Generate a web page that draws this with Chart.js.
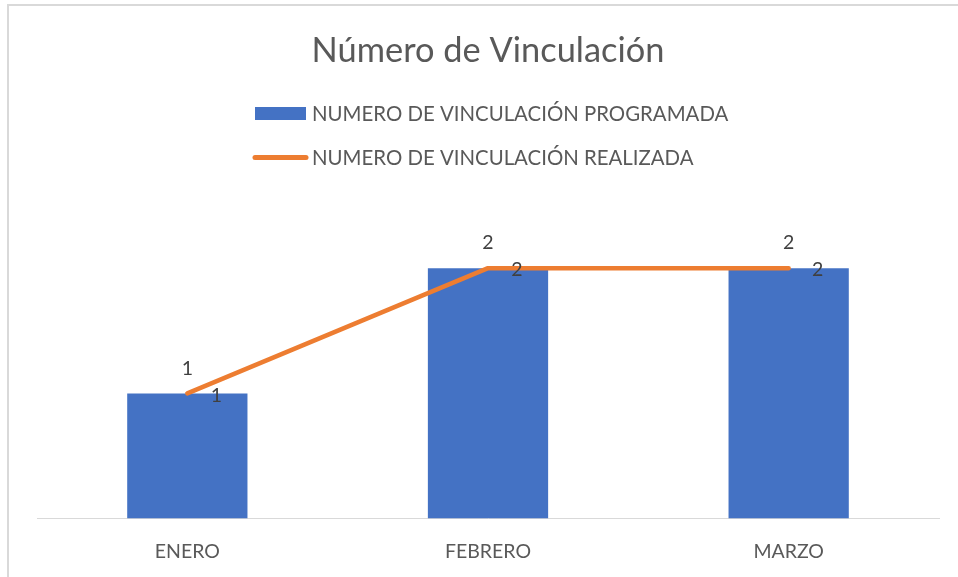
<!DOCTYPE html>
<html>
<head>
<meta charset="utf-8">
<script src="https://cdn.jsdelivr.net/npm/chart.js@4.4.1/dist/chart.umd.min.js"></script>
<style>
    html, body { margin: 0; padding: 0; background: #fff; overflow: hidden; }
    #marco { position: absolute; left: 7px; top: 4px; width: 1000px; height: 700px;
             border-left: 2px solid #d9d9d9; border-top: 2px solid #d9d9d9; }
    #contenedor { position: absolute; left: 0; top: 0; width: 958px; height: 577px; }
</style>
</head>
<body>
<div id="marco"></div>
<div id="contenedor"><canvas id="graficoVinculacion"></canvas></div>
<script>
// Datos del gráfico
const meses = ['ENERO', 'FEBRERO', 'MARZO'];
const vinculacionProgramada = [1, 2, 2];
const vinculacionRealizada = [1, 2, 2];
const etiquetasSeries = ['NUMERO DE VINCULACIÓN PROGRAMADA', 'NUMERO DE VINCULACIÓN REALIZADA'];
const tituloGrafico = 'Número de Vinculación';
const rangoEjeY = [0, 2.5];

const fuente = 'Lato, "Open Sans", sans-serif';
const colorTexto = '#595959';

// Leyenda vertical alineada a la izquierda (como en Excel)
const leyendaVertical = {
    id: 'leyendaVertical',
    afterDraw(chart) {
        const ctx = chart.ctx;
        const x = 255;
        const filas = [113.5, 157.5];
        ctx.save();
        ctx.font = '20.4px ' + fuente;
        ctx.textBaseline = 'middle';
        ctx.textAlign = 'left';
        chart.data.datasets.forEach((ds, i) => {
            const y = filas[i];
            if (ds.type === 'line') {
                ctx.strokeStyle = ds.borderColor;
                ctx.lineWidth = 5;
                ctx.lineCap = 'round';
                ctx.beginPath();
                ctx.moveTo(x, y);
                ctx.lineTo(x + 51, y);
                ctx.stroke();
            } else {
                ctx.fillStyle = ds.backgroundColor;
                ctx.fillRect(x, y - 6.5, 51, 13);
            }
            ctx.fillStyle = colorTexto;
            ctx.fillText(ds.label, x + 57, y + 1);
        });
        ctx.restore();
    }
};

// Etiquetas de datos: barras arriba, línea a la derecha
const etiquetasDatos = {
    id: 'etiquetasDatos',
    afterDatasetsDraw(chart) {
        const ctx = chart.ctx;
        ctx.save();
        ctx.font = '19.5px ' + fuente;
        ctx.fillStyle = '#404040';
        ctx.textAlign = 'center';
        ctx.textBaseline = 'middle';
        chart.data.datasets.forEach((ds, i) => {
            const meta = chart.getDatasetMeta(i);
            meta.data.forEach((el, j) => {
                const valor = ds.data[j];
                if (ds.type === 'line') {
                    ctx.fillText(valor, el.x + 29, el.y + 2);
                } else {
                    ctx.fillText(valor, el.x, el.y - 25);
                }
            });
        });
        ctx.restore();
    }
};

const ctx = document.getElementById('graficoVinculacion').getContext('2d');
new Chart(ctx, {
    data: {
        labels: meses,
        datasets: [{
            type: 'bar',
            label: etiquetasSeries[0],
            data: vinculacionProgramada,
            backgroundColor: '#4472C4',
            categoryPercentage: 1,
            barPercentage: 0.4,
            order: 2
        }, {
            type: 'line',
            label: etiquetasSeries[1],
            data: vinculacionRealizada,
            borderColor: '#ED7D31',
            backgroundColor: '#ED7D31',
            borderWidth: 4.5,
            borderCapStyle: 'round',
            borderJoinStyle: 'round',
            pointRadius: 0,
            tension: 0,
            order: 1
        }]
    },
    options: {
        responsive: true,
        maintainAspectRatio: false,
        animation: false,
        layout: {
            padding: { left: 37, right: 19, top: 0, bottom: -7 }
        },
        plugins: {
            legend: { display: false },
            tooltip: { enabled: false },
            title: {
                display: true,
                text: tituloGrafico,
                color: colorTexto,
                font: { family: fuente, size: 34.4, weight: 'normal' },
                padding: { top: 30, bottom: 134.3 }
            }
        },
        scales: {
            x: {
                grid: { display: false, drawTicks: false },
                border: { display: true, color: '#d9d9d9', width: 1 },
                ticks: {
                    color: colorTexto,
                    font: { family: fuente, size: 19.5 },
                    padding: 21
                }
            },
            y: {
                display: false,
                min: rangoEjeY[0],
                max: rangoEjeY[1]
            }
        }
    },
    plugins: [leyendaVertical, etiquetasDatos]
});
</script>
</body>
</html>
